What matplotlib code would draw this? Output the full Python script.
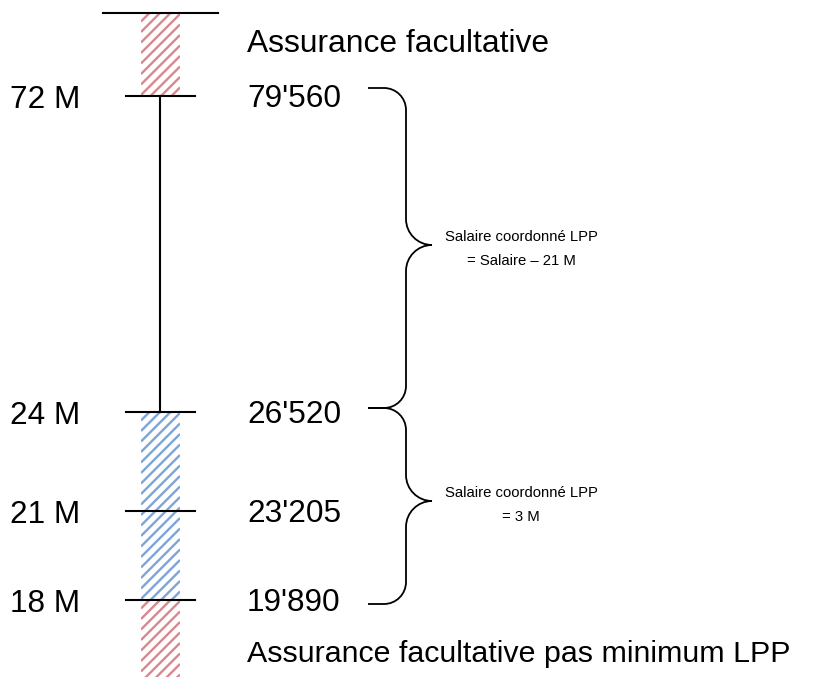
import numpy as np
import matplotlib.pyplot as plt
from matplotlib.path import Path
from matplotlib.patches import PathPatch, Rectangle

plt.rcParams['font.family'] = ['Liberation Sans', 'DejaVu Sans']

# échelle (montants mensuels / annuels)
niveaux = ["72 M", "24 M", "21 M", "18 M"]
montants = ["79'560", "26'520", "23'205", "19'890"]
zone_haut = "Assurance facultative"
zone_bas = "Assurance facultative pas minimum LPP"
accolade_1 = ["Salaire coordonné LPP", "= Salaire \u2013 21 M"]
accolade_2 = ["Salaire coordonné LPP", "= 3 M"]

# mise en page (pixels, y vers le bas)
Y_NIV = [96, 412, 511, 600]
Y_HAUT, Y_BAS = 13, 677
X_BARRE = 160
K = 0.5523


def hachures(ax, x0, x1, ya, yb, couleur):
    rect = Rectangle((x0, ya), x1 - x0, yb - ya, fill=False, lw=0)
    ax.add_patch(rect)
    w = x1 - x0
    for c in np.arange(ya - 2, yb + w + 10, 10.5):
        ln, = ax.plot([x0, x1], [c, c - w], color=couleur, lw=1.7,
                      solid_capstyle='butt')
        ln.set_clip_path(rect)


def accolade(ax, y0, y1, ym, xg=368, xv=406, r=22, rc=26):
    xt = xv + rc
    verts = [
        (xg, y0), (xv - r, y0),
        (xv - r + K * r, y0), (xv, y0 + r - K * r), (xv, y0 + r),
        (xv, ym - rc),
        (xv, ym - rc + K * rc), (xt - K * rc, ym), (xt, ym),
        (xt - K * rc, ym), (xv, ym + rc - K * rc), (xv, ym + rc),
        (xv, y1 - r),
        (xv, y1 - r + K * r), (xv - r + K * r, y1), (xv - r, y1),
        (xg, y1),
    ]
    codes = [Path.MOVETO, Path.LINETO,
             Path.CURVE4, Path.CURVE4, Path.CURVE4,
             Path.LINETO,
             Path.CURVE4, Path.CURVE4, Path.CURVE4,
             Path.CURVE4, Path.CURVE4, Path.CURVE4,
             Path.LINETO,
             Path.CURVE4, Path.CURVE4, Path.CURVE4,
             Path.LINETO]
    ax.add_patch(PathPatch(Path(verts, codes), fill=False, lw=1.3,
                           edgecolor='black', capstyle='butt'))


fig = plt.figure(figsize=(8.19, 6.78), dpi=100)
ax = fig.add_axes([0, 0, 1, 1])
ax.set_xlim(0, 819)
ax.set_ylim(678, 0)
ax.axis('off')

ROUGE = '#d9878e'
BLEU = '#7ea5d8'
hachures(ax, 141, 180, Y_HAUT, Y_NIV[0], ROUGE)
hachures(ax, 141, 180, Y_NIV[1], Y_NIV[3], BLEU)
hachures(ax, 141, 180, Y_NIV[3], Y_BAS, ROUGE)

ax.plot([X_BARRE, X_BARRE], [Y_NIV[0], Y_NIV[1]], color='black', lw=1.5)
ax.plot([103, 218], [Y_HAUT, Y_HAUT], color='black', lw=1.5)
for y in Y_NIV:
    ax.plot([126, 195], [y, y], color='black', lw=1.5)

for lab, mt, y in zip(niveaux, montants, Y_NIV):
    ax.text(10, y + 12, lab, fontsize=22.7, va='baseline', ha='left')
    ax.text(247, y + 11, mt, fontsize=22.7, va='baseline', ha='left')

ax.text(247, 52, zone_haut, fontsize=22.9, va='baseline', ha='left')
ax.text(247, 662, zone_bas, fontsize=21.9, va='baseline', ha='left')

accolade(ax, 88, 408, 245)
accolade(ax, 408, 604, 501)

for lignes, yb in [(accolade_1, 241), (accolade_2, 497)]:
    for i, t in enumerate(lignes):
        ax.text(521, yb + i * 24, t, fontsize=10.7, va='baseline', ha='center')

fig.savefig('out.png', dpi=100)
